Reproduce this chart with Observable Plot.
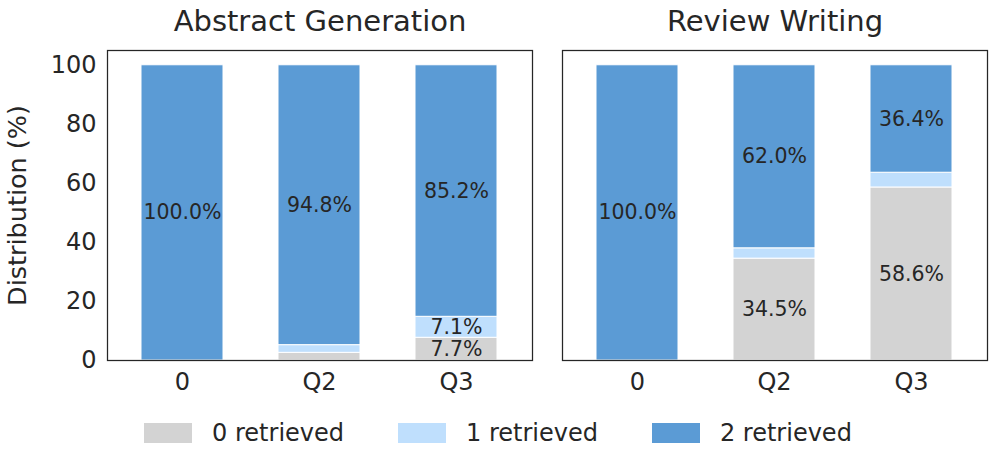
<!DOCTYPE html>
<html>
<head>
<meta charset="utf-8">
<script src="https://cdn.jsdelivr.net/npm/d3@7"></script>
<script src="https://cdn.jsdelivr.net/npm/@observablehq/plot@0.6"></script>
<style>
  html, body { margin: 0; padding: 0; background: #fff; }
  body { width: 996px; height: 464px; overflow: hidden; font-family: "DejaVu Sans", sans-serif; color: #262626; }
  #legend { display: flex; justify-content: center; align-items: center; height: 59px; box-sizing: border-box; padding-bottom: 4px; }
  .item { display: flex; align-items: center; margin: 0 27px; }
  .sw { width: 48px; height: 20px; margin-right: 20px; }
  .lab { font-size: 24px; }
</style>
</head>
<body>
<div id="chart"></div>
<div id="legend"></div>
<script>
const panels = ["Abstract Generation", "Review Writing"];
const categories = ["0", "Q2", "Q3"];
const series = ["0 retrieved", "1 retrieved", "2 retrieved"];
const colors = ["#d3d3d3", "#bfdffd", "#5b9bd5"];
const yTicks = [0, 20, 40, 60, 80, 100];

// values per category (0, Q2, Q3)
const abstract0 = [0, 2.6, 7.7];
const abstract1 = [0, 2.6, 7.1];
const abstract2 = [100, 94.8, 85.2];
const review0 = [0, 34.5, 58.6];
const review1 = [0, 3.5, 5.0];
const review2 = [100, 62.0, 36.4];

const panelSeries = [
  [abstract0, abstract1, abstract2],
  [review0, review1, review2]
];

const rows = [];
panels.forEach((p, pi) => {
  categories.forEach((c, ci) => {
    series.forEach((s, si) => {
      rows.push({panel: p, cat: c, type: s, value: panelSeries[pi][si][ci]});
    });
  });
});

const chart = Plot.plot({
  width: 996,
  height: 405,
  marginLeft: 107,
  marginRight: 8,
  marginTop: 50,
  marginBottom: 45,
  style: {fontFamily: "DejaVu Sans", color: "#262626", background: "#fff"},
  fx: {domain: panels, paddingInner: 0.065, paddingOuter: 0},
  x: {domain: categories, paddingInner: 0.4, paddingOuter: 0.25},
  y: {domain: [0, 105]},
  color: {domain: series, range: colors},
  marks: [
    Plot.barY(rows, Plot.stackY({
      fx: "panel", x: "cat", y: "value", z: "type", fill: "type",
      filter: d => d.value > 0,
      stroke: "#fff", strokeWidth: 1
    })),
    Plot.text(rows, Plot.stackY({
      fx: "panel", x: "cat", y: "value", z: "type",
      text: d => d.value > 5 ? d.value.toFixed(1) + "%" : "",
      fontSize: 20.5, fill: "#262626"
    })),
    Plot.frame({stroke: "#262626", strokeWidth: 1.25}),
    Plot.axisFx({anchor: "top", tickSize: 0, tickPadding: 20, fontSize: 29, label: null}),
    Plot.axisX({tickSize: 0, tickPadding: 12, fontSize: 24, label: null}),
    Plot.axisY({ticks: yTicks, tickSize: 0, tickPadding: 11, fontSize: 24, label: null}),
    Plot.axisY({ticks: [], tickSize: 0, fontSize: 25.5,
      label: "Distribution (%)", labelAnchor: "center", labelArrow: "none", labelOffset: 100})
  ]
});
document.getElementById("chart").appendChild(chart);

const legend = document.getElementById("legend");
series.forEach((s, i) => {
  const item = document.createElement("div");
  item.className = "item";
  const sw = document.createElement("div");
  sw.className = "sw";
  sw.style.background = colors[i];
  const lab = document.createElement("span");
  lab.className = "lab";
  lab.textContent = s;
  item.appendChild(sw);
  item.appendChild(lab);
  legend.appendChild(item);
});
</script>
</body>
</html>
